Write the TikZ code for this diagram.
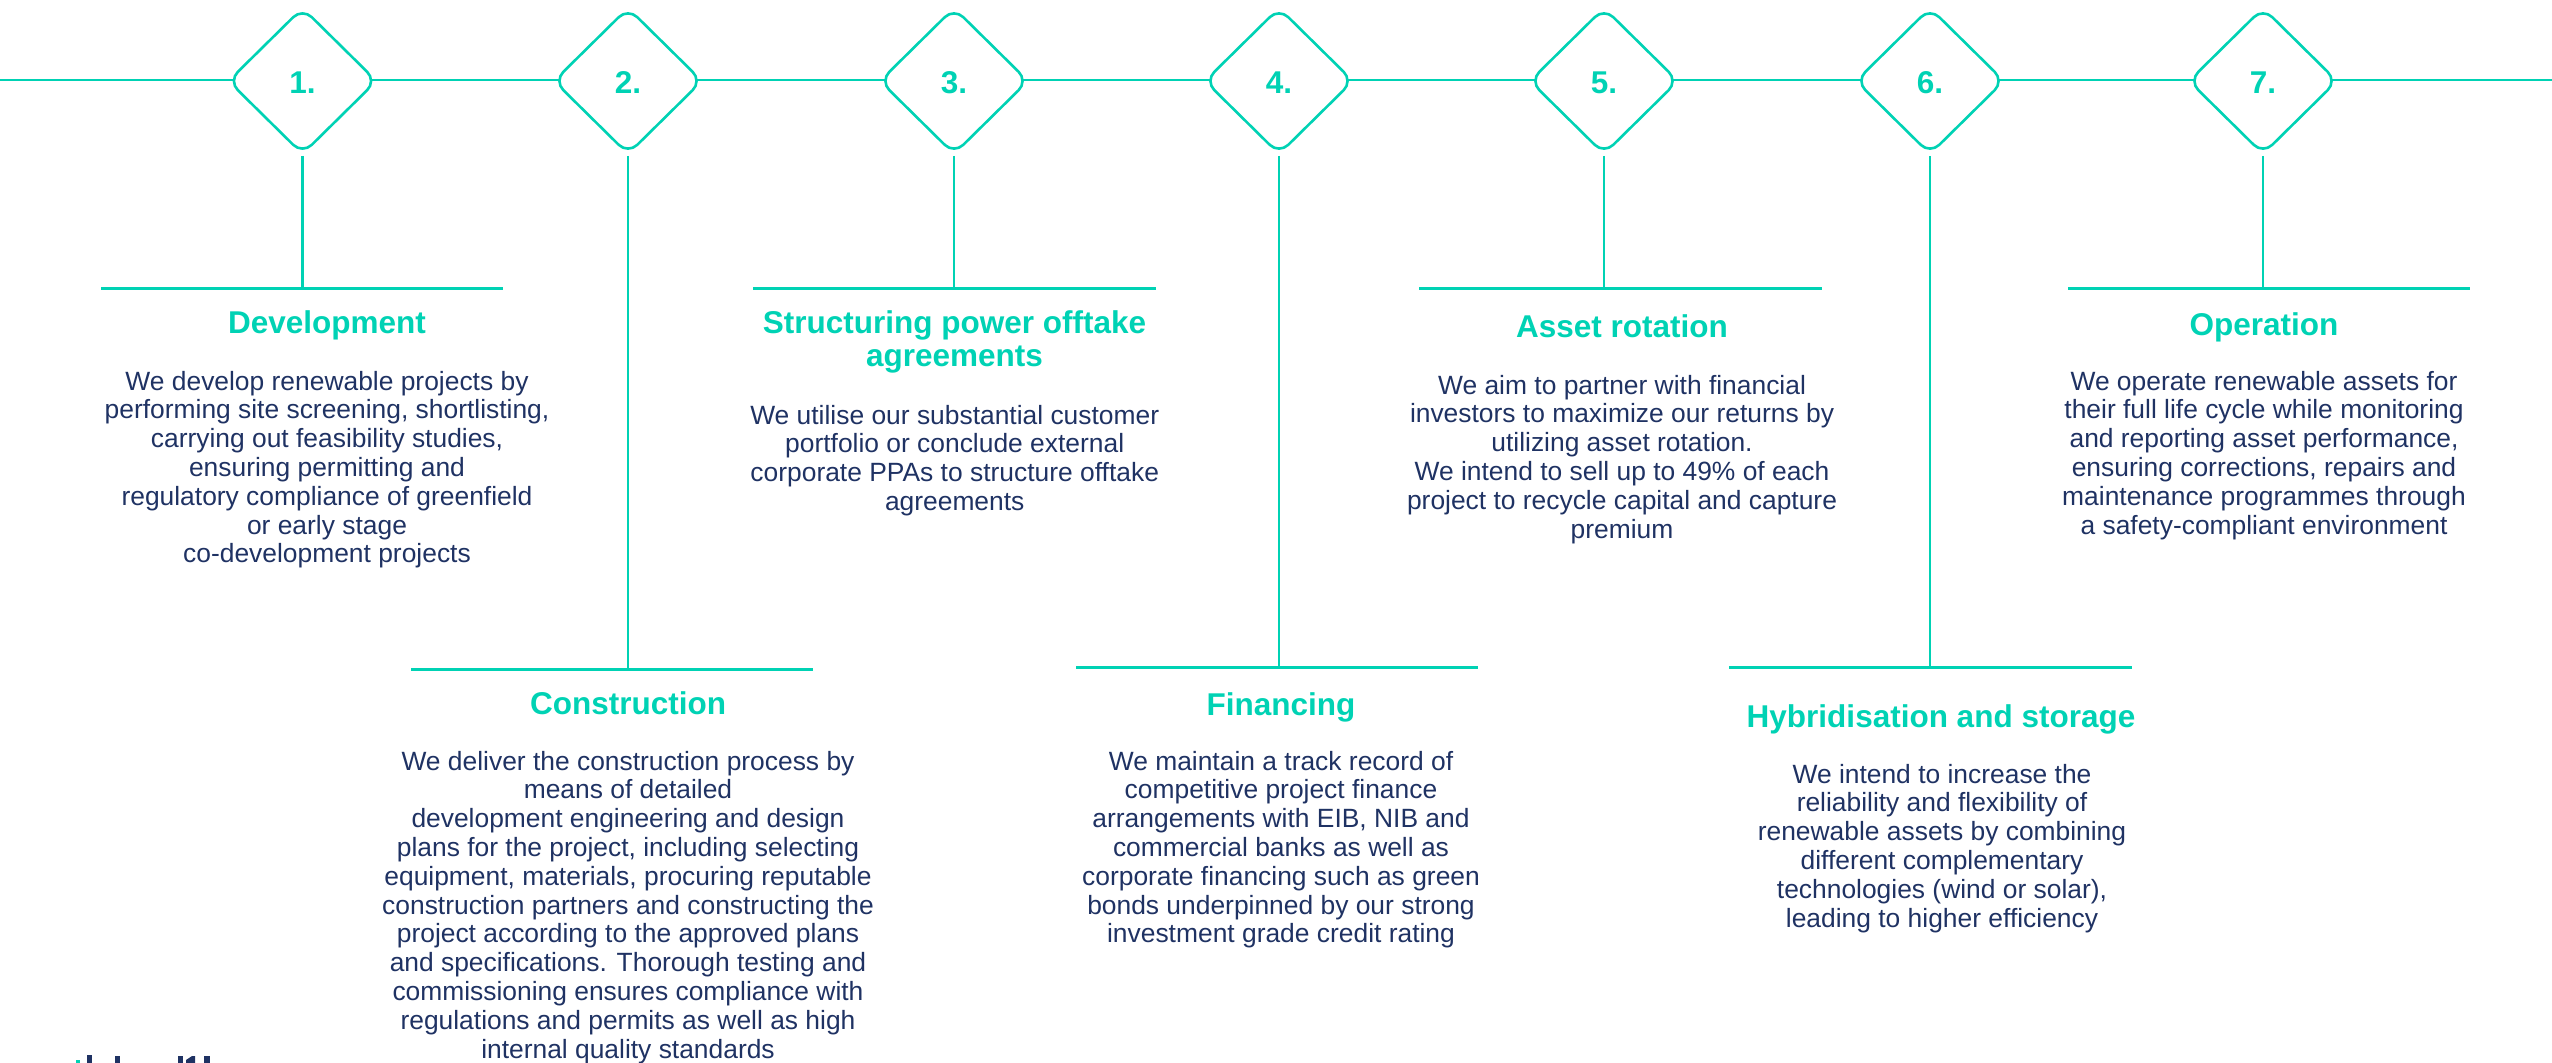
\documentclass[tikz,border=0pt]{standalone}
\usepackage{fontspec}
\setmainfont{Liberation Sans}
\usetikzlibrary{shapes.geometric}
\definecolor{teal1}{RGB}{0,210,180}
\definecolor{navy1}{RGB}{31,50,99}
\pgfdeclarelayer{bg}
\pgfsetlayers{bg,main}
\begin{document}
\begin{tikzpicture}[x=1pt,y=-1pt,
  conn/.style={draw=teal1, line width=2.8pt},
  barline/.style={draw=teal1, line width=3pt},
  stepdia/.style={diamond, aspect=1, draw=teal1, line width=2.6pt, fill=white,
    rounded corners=13pt, minimum width=149pt, minimum height=147pt, inner sep=0pt,
    text=teal1, text height=25pt, text depth=0pt,
    font=\fontsize{31.5}{33}\selectfont\bfseries},
  head/.style={anchor=north, inner sep=0pt, align=center, text=teal1,
    font=\fontsize{31.5}{33}\selectfont\bfseries},
  body/.style={anchor=north, inner sep=0pt, align=center, text=navy1,
    font=\fontsize{26.4}{28.8}\selectfont},
  logo/.style={fill=navy1, draw=none},
]
\useasboundingbox (0,0) rectangle (2552,1063);

% timeline end points
\coordinate (L) at (0,80);
\coordinate (R) at (2552,80);

% diamonds
\node[stepdia] (d1) at (302.5,81) {1.};
\node[stepdia] (d2) at (628,81) {2.};
\node[stepdia] (d3) at (954,81) {3.};
\node[stepdia] (d4) at (1279,81) {4.};
\node[stepdia] (d5) at (1604,81) {5.};
\node[stepdia] (d6) at (1930,81) {6.};
\node[stepdia] (d7) at (2263,81) {7.};

% bars
\coordinate (b1l) at (101,288);  \coordinate (b1r) at (503,288);
\coordinate (b2l) at (411,669);  \coordinate (b2r) at (813,669);
\coordinate (b3l) at (753,288);  \coordinate (b3r) at (1156,288);
\coordinate (b4l) at (1076,667); \coordinate (b4r) at (1478,667);
\coordinate (b5l) at (1419,288); \coordinate (b5r) at (1822,288);
\coordinate (b6l) at (1729,667); \coordinate (b6r) at (2132,667);
\coordinate (b7l) at (2068,288); \coordinate (b7r) at (2470,288);

\begin{pgfonlayer}{bg}
  \draw[conn] (L) -- (R);
  \foreach \i in {1,...,7}{
    \draw[conn] (d\i.south) -- (d\i.south |- b\i l);
  }
\end{pgfonlayer}
\foreach \i in {1,...,7}{
  \draw[barline] (b\i l) -- (b\i r);
}

% headings
\node[head] (h1) at (327,309.9) {\strut Development};
\node[head] (h2) at (628,690.9) {\strut Construction};
\node[head] (h3) at (954.5,309.9) {\strut Structuring power offtake\\agreements};
\node[head] (h4) at (1281,691.9) {\strut Financing};
\node[head] (h5) at (1622,313.9) {\strut Asset rotation};
\node[head] (h6) at (1941,703.9) {\strut Hybridisation and storage};
\node[head] (h7) at (2264,311.9) {\strut Operation};

% bodies
\node[body] (t1) at (327,369.8) {\strut We develop renewable projects by\\
performing site screening, shortlisting,\\
carrying out feasibility studies,\\
ensuring permitting and\\
regulatory compliance of greenfield\\
or early stage\\
co-development projects};

\node[body] (t2) at (628,749.8) {\strut We deliver the construction process by\\
means of detailed\\
development engineering and design\\
plans for the project, including selecting\\
equipment, materials, procuring reputable\\
construction partners and constructing the\\
project according to the approved plans\\
and specifications. Thorough testing and\\
commissioning ensures compliance with\\
regulations and permits as well as high\\
internal quality standards};

\node[body] (t3) at (954.7,403.8) {\strut We utilise our substantial customer\\
portfolio or conclude external\\
corporate PPAs to structure offtake\\
agreements};

\node[body] (t4) at (1281,749.8) {\strut We maintain a track record of\\
competitive project finance\\
arrangements with EIB, NIB and\\
commercial banks as well as\\
corporate financing such as green\\
bonds underpinned by our strong\\
investment grade credit rating};

\node[body] (t5) at (1622,373.8) {\strut We aim to partner with financial\\
investors to maximize our returns by\\
utilizing asset rotation.\\
We intend to sell up to 49\% of each\\
project to recycle capital and capture\\
premium};

\node[body] (t6) at (1942,762.8) {\strut We intend to increase the\\
reliability and flexibility of\\
renewable assets by combining\\
different complementary\\
technologies (wind or solar),\\
leading to higher efficiency};

\node[body] (t7) at (2264,369.8) {\strut We operate renewable assets for\\
their full life cycle while monitoring\\
and reporting asset performance,\\
ensuring corrections, repairs and\\
maintenance programmes through\\
a safety-compliant environment};

% clipped logo fragments at the bottom edge
\fill[teal1] (76,1060) rectangle (80,1063);
\fill[logo] (87,1055) rectangle (92,1063);
\fill[logo] (115,1056) rectangle (120,1063);
\fill[logo] (178,1056) rectangle (183,1063);
\fill[logo] (186,1060) -- (192,1056) -- (195,1056) -- (195,1063) -- (186,1063) -- cycle;
\fill[logo] (204,1056) rectangle (210,1063);
\end{tikzpicture}
\end{document}
